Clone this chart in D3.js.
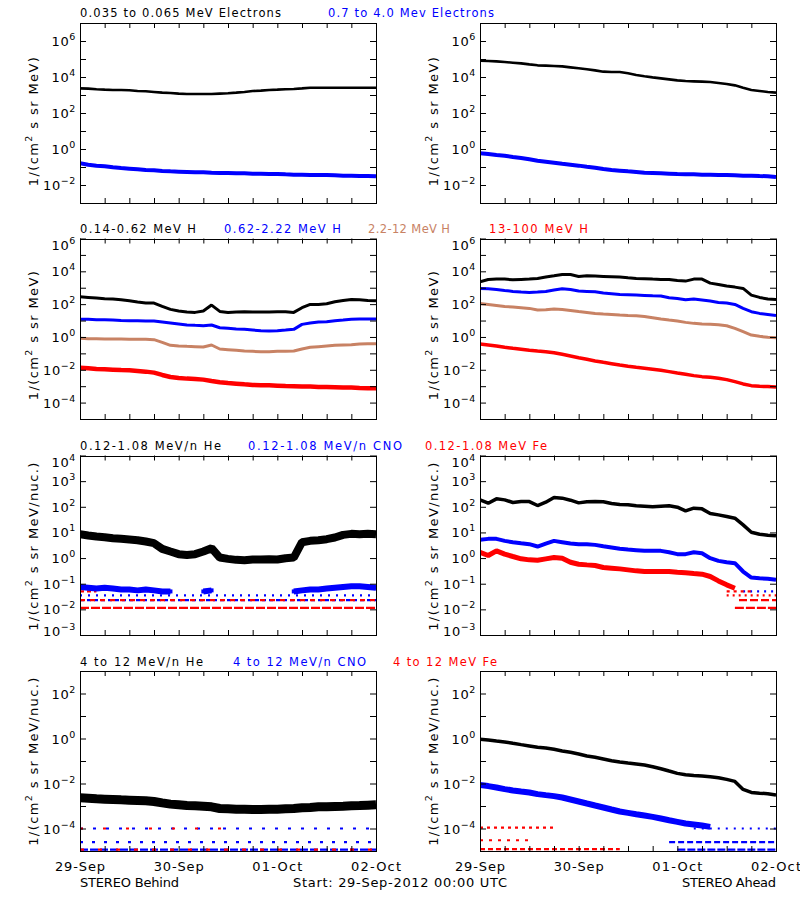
<!DOCTYPE html>
<html><head><meta charset="utf-8">
<script src="https://cdn.jsdelivr.net/npm/d3@7"></script>
<style>body{margin:0;background:#fff}svg{display:block}text{font-family:"DejaVu Sans",sans-serif}</style>
</head><body><svg id="c" width="800" height="900"></svg>
<script>
// ---------- data ----------
const HOURS = [0,2,4,6,8,10,12,14,16,18,20,22,24,26,28,30,32,34,36,38,40,42,44,46,48,50,52,54,56,58,60,62,64,66,68,70,72];
const DAY_HOURS = [0,24,48,72];
const DAY_LABELS = ["29-Sep","30-Sep","01-Oct","02-Oct"];
const X_TICK_HOURS = [0,6,12,18,24,30,36,42,48,54,60,66,72];

// Row 1 electrons
const E_LO_B = [2340,2250,2070,1980,1900,1900,1820,1670,1600,1470,1350,1290,1190,1140,1140,1140,1140,1190,1240,1350,1470,1670,1740,1900,1980,2070,2150,2340,2550,2550,2550,2550,2550,2550,2550,2550,2550];
const E_HI_B = [0.160,0.135,0.119,0.109,0.0958,0.0879,0.0807,0.0741,0.0681,0.0653,0.0600,0.0574,0.0551,0.0528,0.0506,0.0506,0.0484,0.0464,0.0464,0.0445,0.0445,0.0426,0.0426,0.0408,0.0408,0.0391,0.0375,0.0375,0.0360,0.0360,0.0360,0.0345,0.0330,0.0330,0.0316,0.0316,0.0303];
const E_LO_A = [80700,77400,74200,68100,62500,57400,50500,44500,42600,40800,39100,34400,30300,26700,23400,19800,18900,18900,16000,12900,10900,9580,8430,7410,6520,5990,5740,5500,5270,4640,4080,3440,2550,1900,1670,1470,1350];
const E_HI_A = [0.574,0.527,0.464,0.426,0.360,0.316,0.267,0.225,0.198,0.174,0.153,0.135,0.119,0.104,0.0918,0.0774,0.0681,0.0625,0.0574,0.0528,0.0484,0.0464,0.0445,0.0426,0.0408,0.0391,0.0391,0.0375,0.0375,0.0360,0.0360,0.0345,0.0330,0.0330,0.0316,0.0303,0.0278];

// Row 2 protons
const H1_B = [282,257,234,213,203,185,161,134,116,116,72.8,47.8,37.8,32.9,31.4,37.8,87.7,36.1,31.4,32.9,34.5,32.9,32.9,32.9,34.5,34.5,31.4,60.4,96.4,96.4,106,140,169,194,185,169,161];
const H2_B = [11.8,11.8,11.2,11.2,10.7,10.2,9.77,9.77,9.33,9.33,8.11,7.05,6.13,5.33,5.08,4.85,5.33,3.66,3.34,3.04,2.90,2.64,2.41,2.30,2.41,2.64,2.90,5.85,7.05,8.11,8.50,9.77,10.7,11.8,12.3,12.3,12.3];
const H3_B = [0.822,0.785,0.785,0.749,0.749,0.749,0.715,0.715,0.715,0.682,0.469,0.308,0.281,0.268,0.256,0.244,0.323,0.185,0.168,0.153,0.139,0.133,0.127,0.127,0.133,0.133,0.139,0.185,0.233,0.256,0.281,0.308,0.323,0.338,0.371,0.389,0.389];
const H4_B = [0.0135,0.0123,0.0112,0.0107,0.0102,0.00972,0.00928,0.00846,0.00770,0.00669,0.00483,0.00365,0.00317,0.00289,0.00275,0.00251,0.00208,0.00173,0.00157,0.00143,0.00130,0.00119,0.00113,0.00113,0.00108,0.00103,0.000986,0.000941,0.000941,0.000898,0.000898,0.000857,0.000818,0.000818,0.000780,0.000745,0.000745];
const H1_A = [2310,3200,3350,3350,3050,3200,3350,3680,4440,5340,6440,6440,4870,5340,5100,4870,4650,4440,4040,3680,3510,3350,3200,3200,2780,2530,3350,3350,1910,1590,1260,1090,906,356,257,203,194];
const H2_A = [906,865,788,685,596,542,518,542,596,718,865,788,624,596,569,471,429,391,373,356,340,324,310,245,223,185,203,177,154,127,116,96.4,55.0,34.5,27.3,23.7,20.6];
const H3_A = [111,96.4,83.8,72.8,66.3,60.4,55.0,43.6,45.6,50.1,47.8,41.6,36.1,31.4,27.3,24.9,23.7,21.6,20.6,19.7,17.9,14.9,12.3,10.7,9.33,7.73,6.73,6.13,5.85,5.58,4.85,3.34,2.09,1.31,1.09,0.946,0.902];
const H4_A = [0.371,0.323,0.281,0.233,0.202,0.176,0.153,0.139,0.127,0.110,0.0873,0.0692,0.0547,0.0434,0.0343,0.0284,0.0236,0.0196,0.0163,0.0141,0.0123,0.0107,0.00928,0.00770,0.00638,0.00530,0.00440,0.00382,0.00348,0.00303,0.00251,0.00190,0.00137,0.00108,0.000986,0.000941,0.000898];

// Row 3 low-energy heavy ions
const HE_LO_B = [8.53,7.57,6.92,6.52,5.96,5.62,5.29,4.98,4.42,3.80,2.29,1.80,1.42,1.33,1.42,1.80,2.43,1.05,0.932,0.851,0.826,0.877,0.877,0.904,0.877,0.989,1.05,4.16,4.69,4.98,5.45,6.33,8.04,8.79,8.53,8.79,8.53];
const CNO_LO_B = [0.075,0.07,0.065,0.07,0.065,0.06,0.06,0.055,0.06,0.055,0.05,0.05,null,null,null,0.05,0.055,null,null,null,null,null,null,null,null,null,0.05,0.055,0.06,0.06,0.065,0.07,0.075,0.08,0.08,0.075,0.07];
const HE_LO_A = [186,138,204,186,147,160,160,112,151,230,217,181,142,156,160,156,134,122,119,109,105,99.3,105,109,96.4,69.4,88.1,83.0,54.6,48.4,41.7,35.9,19.7,10.2,8.53,7.80,7.35];
const CNO_LO_A = [5.13,5.61,5.61,4.69,4.16,3.80,3.48,2.82,3.69,4.69,4.16,3.69,3.48,3.48,3.27,2.90,2.58,2.29,2.15,2.03,1.91,1.91,1.91,1.69,1.42,1.42,1.69,1.55,0.989,0.778,0.690,0.631,0.299,0.174,0.164,0.155,0.141];
const FE_LO_A = [1.69,1.26,1.91,1.42,1.15,0.932,0.851,0.826,0.932,1.05,0.989,0.690,0.577,0.543,0.512,0.428,0.403,0.379,0.347,0.317,0.299,0.299,0.299,0.299,0.281,0.265,0.249,0.235,0.191,0.129,0.0902,0.0668,null,null,null,null,null];

// Row 4 high-energy heavy ions
const HE_HI_B = [0.00231,0.00223,0.00209,0.00202,0.00195,0.00188,0.00182,0.00176,0.00170,0.00159,0.00138,0.00121,0.00113,0.00105,0.00102,0.000983,0.000918,0.000773,0.000747,0.000722,0.000722,0.000698,0.000698,0.000722,0.000722,0.000747,0.000773,0.000828,0.000858,0.000918,0.000918,0.000950,0.000983,0.00102,0.00105,0.00109,0.00113];
const HE_HI_A = [0.927,0.865,0.780,0.705,0.614,0.535,0.467,0.407,0.380,0.331,0.279,0.244,0.205,0.167,0.146,0.123,0.103,0.0902,0.0814,0.0735,0.0664,0.0559,0.0455,0.0358,0.0282,0.0246,0.0229,0.0214,0.0200,0.0181,0.0152,0.0124,0.00545,0.00400,0.00373,0.00349,0.00304];
const CNO_HI_A = [0.00849,0.00767,0.00668,0.00564,0.00491,0.00443,0.00400,0.00337,0.00304,0.00275,0.00239,0.00195,0.00159,0.00129,0.00105,0.000858,0.000698,0.000569,0.000496,0.000432,0.000377,0.000329,0.000277,0.000233,0.000197,0.000166,0.000150,0.000135,0.000118,null,null,null,null,null,null,null,null];

// one-count background levels: [level, start hour, end hour]
const FLOOR_CNO_LO_B = [[0.023,0,72],[0.035,0,72]];
const FLOOR_FE_LO_B  = [[0.0115,0,72],[0.023,0,72],[0.05,0,4]];
const FLOOR_CNO_LO_A = [[0.05,64,72]];
const FLOOR_FE_LO_A  = [[0.0115,62,72],[0.023,63,72],[0.035,60,72],[0.05,60,66]];
const FLOOR_CNO_HI_B = [[1.15e-5,0,72],[2.5e-5,0,72],[1e-4,0,72]];
const FLOOR_FE_HI_B  = [[1.15e-5,0,72],[1e-4,0,36]];
const FLOOR_CNO_HI_A = [[1.15e-5,48,72],[2.5e-5,46,72],[1e-4,52,72]];
const FLOOR_FE_HI_A  = [[1.2e-5,0,34],[3e-5,0,12],[1.1e-4,0,18]];

// titles and axis labels
const TITLES_R1 = ["0.035 to 0.065 MeV Electrons","0.7 to 4.0 Mev Electrons"];
const TITLES_R2 = ["0.14-0.62 MeV H","0.62-2.22 MeV H","2.2-12 MeV H","13-100 MeV H"];
const TITLES_R3 = ["0.12-1.08 MeV/n He","0.12-1.08 MeV/n CNO","0.12-1.08 MeV Fe"];
const TITLES_R4 = ["4 to 12 MeV/n He","4 to 12 MeV/n CNO","4 to 12 MeV Fe"];
const Y_EXP_R1 = [-2,0,2,4,6];
const Y_EXP_R2 = [-4,-2,0,2,4,6];
const Y_EXP_R3 = [-3,-2,-1,0,1,2,3,4];
const Y_EXP_R4 = [-4,-2,0,2];
const FOOT_LEFT = "STEREO Behind", FOOT_MID = "Start: 29-Sep-2012 00:00 UTC", FOOT_RIGHT = "STEREO Ahead";

// ---------- styles / layout ----------
const BLACK="#000000", BLUE="#0000ff", RED="#ff0000", TAN="#c88264";
const COLS = [[80,376],[480,776]];
const ROWS = [
  {y0:23, y1:203, lo:1e-3, hi:1e7, exps:Y_EXP_R1, unit:"MeV", ylabCy:121, titleY:17, titles:TITLES_R1,
   titleX:[80,328], titleW:[201,166], titleC:[BLACK,BLUE]},
  {y0:238.5, y1:419, lo:1e-5, hi:1e6, exps:Y_EXP_R2, unit:"MeV", ylabCy:335, titleY:233, titles:TITLES_R2,
   titleX:[80,224,368,489], titleW:[116,117,82,99], titleC:[BLACK,BLUE,TAN,RED]},
  {y0:455.5, y1:635, lo:1e-3, hi:1e4, exps:Y_EXP_R3, unit:"MeV/nuc.", ylabCy:546, titleY:450, titles:TITLES_R3,
   titleX:[80,248,425], titleW:[141,154,122], titleC:[BLACK,BLUE,RED]},
  {y0:671, y1:851, lo:1e-5, hi:1e3, exps:Y_EXP_R4, unit:"MeV/nuc.", ylabCy:761, titleY:666, titles:TITLES_R4,
   titleX:[80,233,393], titleW:[123,133,104], titleC:[BLACK,BLUE,RED]}
];
const PANELS = [
  [ {series:[{v:E_LO_B,c:BLACK,w:2.6},{v:E_HI_B,c:BLUE,w:4}]},
    {series:[{v:E_LO_A,c:BLACK,w:2.6},{v:E_HI_A,c:BLUE,w:4}]} ],
  [ {series:[{v:H1_B,c:BLACK,w:3},{v:H2_B,c:BLUE,w:3},{v:H3_B,c:TAN,w:3},{v:H4_B,c:RED,w:4.5}]},
    {series:[{v:H1_A,c:BLACK,w:3},{v:H2_A,c:BLUE,w:3},{v:H3_A,c:TAN,w:3},{v:H4_A,c:RED,w:3.5}]} ],
  [ {series:[{v:HE_LO_B,c:BLACK,w:8},{v:CNO_LO_B,c:BLUE,w:6,dots:true}],
     floors:[{d:FLOOR_CNO_LO_B,c:BLUE,dash:["4,3","2,6"]},{d:FLOOR_FE_LO_B,c:RED,dash:["9,2","5,5","4,3"]}]},
    {series:[{v:HE_LO_A,c:BLACK,w:3.5},{v:CNO_LO_A,c:BLUE,w:4},{v:FE_LO_A,c:RED,w:5}],
     floors:[{d:FLOOR_CNO_LO_A,c:BLUE,dash:["2,5"]},{d:FLOOR_FE_LO_A,c:RED,dash:["9,2","8,3","2,4","3,4"]}]} ],
  [ {series:[{v:HE_HI_B,c:BLACK,w:9}],
     floors:[{d:FLOOR_CNO_HI_B,c:BLUE,dash:["8,2","3,9","3,10"]},{d:FLOOR_FE_HI_B,c:RED,dash:["4,14","3,20"]}]},
    {series:[{v:HE_HI_A,c:BLACK,w:3.5},{v:CNO_HI_A,c:BLUE,w:6}],
     floors:[{d:FLOOR_CNO_HI_A,c:BLUE,dash:["8,2","6,3","2,6"]},{d:FLOOR_FE_HI_A,c:RED,dash:["5,3","3,6","3,4"]}]} ]
];

// ---------- draw ----------
const svg = d3.select("#c");
svg.append("rect").attr("width",800).attr("height",900).attr("fill","#fff");
const defs = svg.append("defs");

ROWS.forEach((r,ri)=>{
  r.titles.forEach((t,i)=>{
    svg.append("text").attr("x",r.titleX[i]).attr("y",r.titleY)
      .attr("font-size",11.5).attr("textLength",r.titleW[i]).attr("lengthAdjust","spacing")
      .attr("fill",r.titleC[i]).text(t);
  });
  COLS.forEach((cx,ci)=>{
    const x = d3.scaleLinear().domain([0,72]).range(cx);
    const y = d3.scaleLog().domain([r.lo,r.hi]).range([r.y1,r.y0]);
    const g = svg.append("g");
    const id = `clip${ri}${ci}`;
    defs.append("clipPath").attr("id",id).append("rect")
      .attr("x",cx[0]).attr("y",r.y0).attr("width",cx[1]-cx[0]).attr("height",r.y1-r.y0);
    const pg = g.append("g").attr("clip-path",`url(#${id})`);
    const p = PANELS[ri][ci];
    (p.floors||[]).forEach(f=>{
      f.d.forEach((lv,k)=>{
        pg.append("line").attr("x1",x(lv[1])).attr("x2",x(lv[2]))
          .attr("y1",y(lv[0])).attr("y2",y(lv[0]))
          .attr("stroke",f.c).attr("stroke-width",2.2)
          .attr("stroke-dasharray",f.dash[k]||"4,4");
      });
    });
    const line = d3.line().defined(d=>d[1]!=null).x(d=>x(d[0])).y(d=>y(d[1]));
    p.series.forEach(s=>{
      const pts = HOURS.map((h,i)=>[h,s.v[i]]);
      pg.append("path").datum(pts).attr("d",line).attr("fill","none")
        .attr("stroke",s.c).attr("stroke-width",s.w).attr("stroke-linejoin","bevel");
      if(s.dots){
        pg.selectAll(null).data(pts.filter(d=>d[1]!=null)).enter().append("rect")
          .attr("x",d=>x(d[0])-2).attr("y",d=>y(d[1])-2).attr("width",4).attr("height",4).attr("fill",s.c);
      }
    });
    // axes (ticks inward on all four sides)
    const kLo = Math.round(Math.log10(r.lo)), kHi = Math.round(Math.log10(r.hi));
    const decades = d3.range(kLo, kHi+1).map(k=>Math.pow(10,k));
    const strip = a=>a.select(".domain").remove();
    g.append("g").attr("transform",`translate(${cx[0]},0)`)
      .call(d3.axisLeft(y).tickValues(decades).tickSize(-6).tickSizeOuter(0).tickFormat("")).call(strip);
    g.append("g").attr("transform",`translate(${cx[1]},0)`)
      .call(d3.axisRight(y).tickValues(decades).tickSize(-6).tickSizeOuter(0).tickFormat("")).call(strip);
    g.append("g").attr("transform",`translate(0,${r.y1})`)
      .call(d3.axisBottom(x).tickValues(X_TICK_HOURS).tickSize(-5).tickSizeOuter(0).tickFormat("")).call(strip);
    g.append("g").attr("transform",`translate(0,${r.y0})`)
      .call(d3.axisTop(x).tickValues(X_TICK_HOURS).tickSize(-5).tickSizeOuter(0).tickFormat("")).call(strip);
    g.append("rect").attr("x",cx[0]+0.5).attr("y",Math.round(r.y0)+0.5)
      .attr("width",cx[1]-cx[0]).attr("height",Math.round(r.y1)-Math.round(r.y0))
      .attr("fill","none").attr("stroke","#000").attr("stroke-width",1);
    // y tick labels 10^n (edge labels nudged inside)
    r.exps.forEach(k=>{
      const nudge = k===kHi ? 6 : (k===kLo ? -4 : 0);
      const t = g.append("text").attr("x",cx[0]-4).attr("y",y(Math.pow(10,k))+5+nudge)
        .attr("text-anchor","end").attr("font-size",13).attr("letter-spacing",0.6);
      t.append("tspan").text("10");
      t.append("tspan").attr("dy",-6).attr("font-size",9.5).text(k<0?"\u2212"+(-k):String(k));
    });
    // y axis title
    const yt = g.append("text").attr("transform",`translate(${cx[0]-42},${r.ylabCy}) rotate(-90)`)
      .attr("text-anchor","middle").attr("font-size",13).attr("letter-spacing",1.4);
    yt.append("tspan").text("1/(cm");
    yt.append("tspan").attr("dy",-6).attr("font-size",9.5).text("2");
    yt.append("tspan").attr("dy",6).text(" s sr " + r.unit + ")");
    if(ri===ROWS.length-1){
      DAY_HOURS.forEach((h,i)=>{
        g.append("text").attr("x",x(h)).attr("y",871).attr("text-anchor","middle")
          .attr("font-size",13).attr("textLength",50).attr("lengthAdjust","spacing").text(DAY_LABELS[i]);
      });
    }
  });
});
const foot = (txt,x,anchor,w)=>svg.append("text").attr("x",x).attr("y",887).attr("text-anchor",anchor)
  .attr("font-size",13).attr("textLength",w).attr("lengthAdjust","spacing").text(txt);
foot(FOOT_LEFT,80,"start",99);
foot(FOOT_MID,400,"middle",214);
foot(FOOT_RIGHT,776,"end",94);
</script></body></html>
